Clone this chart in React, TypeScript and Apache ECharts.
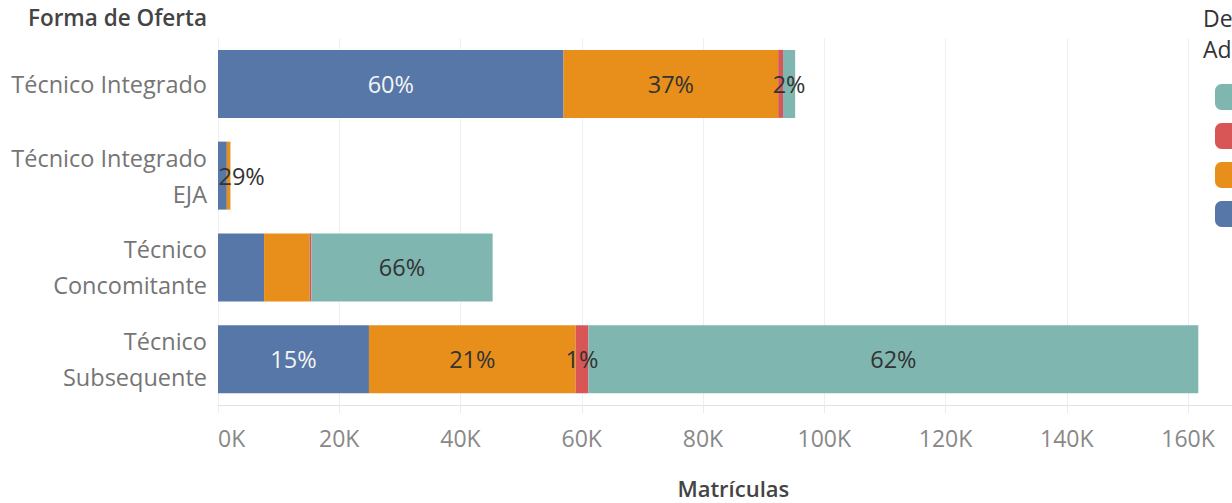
import React, { useEffect, useRef } from "react";
import * as echarts from "echarts";

// ---- data (values in number of enrolments) ----
const categories = [
  "Técnico Integrado",
  "Técnico Integrado\nEJA",
  "Técnico\nConcomitante",
  "Técnico\nSubsequente",
];
const seriesNames = ["Federal", "Estadual", "Municipal", "Privada"];
const federal = [57000, 1450, 7600, 24900];
const estadual = [35400, 600, 7500, 34100];
const municipal = [800, 0, 300, 2100];
const privada = [2000, 0, 29900, 100600];
// which segment shows its percentage label
const federalShown = [true, false, false, true];
const estadualShown = [true, true, false, true];
const municipalShown = [false, false, false, true];
const privadaShown = [true, false, true, true];
const legendOrder = ["Privada", "Municipal", "Estadual", "Federal"];
const axisMax = 170000;
const axisInterval = 20000;
const yTitle = "Forma de Oferta";
const xTitle = "Matrículas";
const legendTitle = "Dependência\nAdministrativa";

const colors: Record<string, string> = {
  Federal: "#5677a7",
  Estadual: "#e88e1b",
  Municipal: "#d85656",
  Privada: "#80b6b0",
};
const labelColors: Record<string, string> = {
  Federal: "#f4f4f4",
  Estadual: "#333333",
  Municipal: "#333333",
  Privada: "#333333",
};

const FONT = "'Open Sans', sans-serif";

export default function App() {
  const ref = useRef<HTMLDivElement>(null);

  useEffect(() => {
    if (!ref.current) return;
    const chart = echarts.init(ref.current, undefined, { renderer: "svg" });

    const values = [federal, estadual, municipal, privada];
    const shown = [federalShown, estadualShown, municipalShown, privadaShown];
    const totals = categories.map((_, j) =>
      values.reduce((s, arr) => s + arr[j], 0)
    );

    const series = seriesNames.map((name, i) => ({
      name,
      type: "bar",
      stack: "total",
      barWidth: 68,
      itemStyle: { color: colors[name] },
      data: values[i].map((v, j) => {
        const item: any = {
          value: v,
          label: { show: shown[i][j] },
        };
        // EJA label is pushed right to stay within the pane
        if (j === 1 && shown[i][j]) item.label.offset = [13, 0];
        return item;
      }),
      label: {
        position: "inside",
        color: labelColors[name],
        fontFamily: FONT,
        fontSize: 23.5,
        formatter: (p: any) =>
          Math.round((p.value / totals[p.dataIndex]) * 100) + "%",
      },
      emphasis: { disabled: true },
    }));

    chart.setOption({
      animation: false,
      textStyle: { fontFamily: FONT },
      grid: {
        left: 218,
        top: 38,
        width: (axisMax / 20000) * 121.25,
        height: 367,
        containLabel: false,
        outerBoundsMode: "none",
      },
      xAxis: {
        type: "value",
        min: 0,
        max: axisMax,
        interval: axisInterval,
        name: xTitle,
        nameLocation: "middle",
        nameGap: 72,
        nameTextStyle: {
          fontFamily: FONT,
          fontSize: 22,
          fontWeight: 600,
          color: "#444",
        },
        axisLine: { show: true, lineStyle: { color: "#e2e2e2", width: 1 } },
        axisTick: { show: true, length: 8, lineStyle: { color: "#ececec" } },
        splitLine: { show: true, lineStyle: { color: "#efefef", width: 1 } },
        axisLabel: {
          fontFamily: FONT,
          fontSize: 23,
          color: "#888",
          margin: 21,
          showMaxLabel: false,
          alignMinLabel: "left",
          formatter: (v: number) => Math.round(v / 1000) + "K",
        },
      },
      yAxis: {
        type: "category",
        data: categories,
        inverse: true,
        axisLine: { show: false },
        axisTick: { show: false },
        splitLine: { show: false },
        axisLabel: {
          fontFamily: FONT,
          fontSize: 23.5,
          color: "#757575",
          margin: 11,
          lineHeight: 36,
          align: "right",
        },
      },
      legend: {
        orient: "vertical",
        left: 1210,
        top: 79,
        itemWidth: 30,
        itemHeight: 26,
        itemGap: 13,
        icon: "roundRect",
        data: legendOrder,
        selectedMode: false,
        textStyle: { fontFamily: FONT, fontSize: 20, color: "#555" },
      },
      graphic: [
        {
          type: "text",
          right: 1232 - 207,
          top: 6,
          style: {
            text: yTitle,
            fontFamily: FONT,
            fontSize: 22.5,
            fontWeight: 600,
            fill: "#444",
          },
        },
        {
          type: "text",
          left: 1203,
          top: 2,
          style: {
            text: legendTitle,
            fontFamily: FONT,
            fontSize: 23,
            fontWeight: 500,
            lineHeight: 31,
            fill: "#333",
          },
        },
      ],
      series,
    });

    return () => chart.dispose();
  }, []);

  return (
    <div
      style={{
        position: "absolute",
        left: 0,
        top: 0,
        width: 1232,
        height: 503,
        overflow: "hidden",
        background: "#fff",
      }}
    >
      <div ref={ref} style={{ width: 1232, height: 503 }} />
    </div>
  );
}
